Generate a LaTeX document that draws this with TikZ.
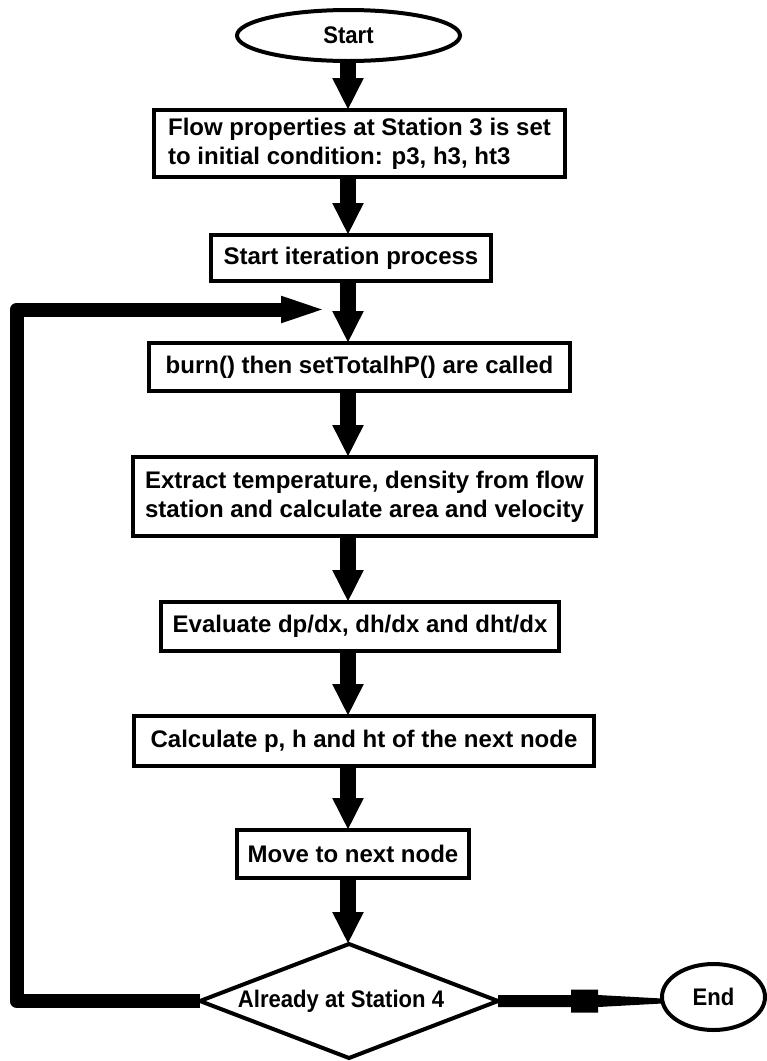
\documentclass[tikz,border=0pt]{standalone}
\usepackage{fontspec}
\usepackage{graphicx}
\setmainfont{Liberation Sans}
\usetikzlibrary{arrows.meta,shapes.geometric,calc}
\newcommand{\narrowtext}[1]{\scalebox{0.92}[1]{#1}}
\begin{document}
\begin{tikzpicture}[x=1pt,y=-1pt,
  every node/.style={inner sep=0pt, outer sep=0pt, text=black},
  stepbox/.style={draw, rectangle, line width=4pt, align=left,
    font=\bfseries\fontsize{24}{29}\selectfont},
  terminal/.style={draw, ellipse, line width=4pt,
    font=\bfseries\fontsize{24}{29}\selectfont},
  decision/.style={draw, diamond, line width=4pt},
  flow/.style={line width=16pt, -{Triangle[length=32pt 0, width=29pt 0]}},
  back/.style={line width=14pt, line join=round,
    -{Triangle[length=52pt 0, width=22pt 0]}},
]
\useasboundingbox (0,0) rectangle (767,1061);
\fill[white] (0,0) rectangle (767,1061);

% terminals, process steps and the decision
\node[terminal, minimum width=223pt, minimum height=51pt] (start) at (348.5,35.5)
  {\narrowtext{Start}};
\node[stepbox, minimum width=411pt, minimum height=67pt] (box1) at (359.5,143.5)
  {Flow properties at Station 3 is set\\to initial condition: p3, h3, ht3};
\node[stepbox, minimum width=280pt, minimum height=46pt] (box2) at (351,258)
  {Start iteration process};
\node[stepbox, minimum width=421pt, minimum height=48pt] (box3) at (359.5,367)
  {burn() then setTotalhP() are called};
\node[stepbox, minimum width=463pt, minimum height=79pt] (box4) at (364.5,496.5)
  {Extract temperature, density from flow\\station and calculate area and velocity};
\node[stepbox, minimum width=398pt, minimum height=49pt] (box5) at (360,626.5)
  {Evaluate dp/dx, dh/dx and dht/dx};
\node[stepbox, minimum width=460pt, minimum height=50pt] (box6) at (364,741)
  {Calculate p, h and ht of the next node};
\node[stepbox, minimum width=232pt, minimum height=48pt] (box7) at (353,854)
  {Move to next node};
\node[decision, minimum width=298pt, minimum height=114pt,
  label={[font=\bfseries\fontsize{24}{29}\selectfont, xshift=-8pt]center:\narrowtext{Already at Station 4}}]
  (dia) at (349,1001) {};
\node[terminal, minimum width=103pt, minimum height=66pt] (stop) at (713.5,997)
  {\narrowtext{End}};

% main downward flow
\coordinate (col) at (348,0);
\draw[flow] (start.south -| col) -- (box1.north -| col);
\draw[flow] (box1.south -| col) -- (box2.north -| col);
\draw[flow] (box2.south -| col) -- (box3.north -| col);
\draw[flow] (box3.south -| col) -- (box4.north -| col);
\draw[flow] (box4.south -| col) -- (box5.north -| col);
\draw[flow] (box5.south -| col) -- (box6.north -| col);
\draw[flow] (box6.south -| col) -- (box7.north -| col);
\draw[flow] (box7.south -| col) -- (dia.north -| col);

% loop back to the start of the iteration
\coordinate (ltop) at (16.5,309.5);
\coordinate (lin) at (333,309.5);
\draw[back] (dia.west) -| (ltop) -- (lin);

% exit to End
\fill ($(dia.east)+(0,-6)$) -- ($(dia.east)+(73,-6)$) -- ($(dia.east)+(73,-11.5)$)
  -- ($(dia.east)+(100,-11.5)$) -- ($(dia.east)+(100,-6)$)
  -- ($(dia.east -| stop.west)+(0,-2.5)$) -- ($(dia.east -| stop.west)+(0,2.5)$)
  -- ($(dia.east)+(100,6)$) -- ($(dia.east)+(100,11.5)$) -- ($(dia.east)+(73,11.5)$)
  -- ($(dia.east)+(73,6)$) -- ($(dia.east)+(0,6)$) -- cycle;
\end{tikzpicture}
\end{document}
